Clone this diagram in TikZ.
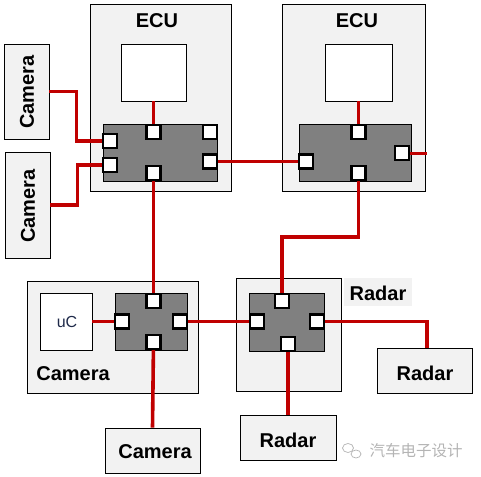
\documentclass[tikz,border=0pt]{standalone}
\usepackage{fontspec}
\usetikzlibrary{shapes.geometric}
\setmainfont{Liberation Sans}
\newfontfamily\cjk{Noto Sans CJK SC}
\definecolor{wirered}{HTML}{C00000}
\definecolor{boxgray}{HTML}{F2F2F2}
\definecolor{swgray}{HTML}{808080}
\definecolor{wmgray}{HTML}{B4B4B4}
\definecolor{ucblue}{HTML}{1F2A4A}
\pgfdeclarelayer{bg}
\pgfdeclarelayer{wires}
\pgfsetlayers{bg,wires,main}
\tikzset{
  x=1pt,y=-1pt,
  unit/.style={draw=black,line width=0.8pt,fill=boxgray,inner sep=0pt},
  inner/.style={draw=black,line width=0.8pt,fill=white,inner sep=0pt},
  switchbox/.style={draw=black,line width=0.8pt,fill=swgray,inner sep=0pt},
  port/.style={draw=black,line width=2.8pt,fill=white,minimum size=14pt,inner sep=0pt},
  wire/.style={draw=wirered,line width=3.6pt},
  thinwire/.style={draw=wirered,line width=3pt},
  lbl/.style={font=\fontsize{20}{24}\selectfont\bfseries,inner sep=0pt},
}
\begin{document}
\begin{tikzpicture}
\useasboundingbox (0,0) rectangle (481,476);
\begin{pgfonlayer}{bg}
% ECU A
\node[unit,minimum width=141pt,minimum height=187pt] (ecuA) at (160.5,97.5) {};
\node[lbl] (ecuAt) at (157,21) {ECU};
\node[inner,minimum width=65pt,minimum height=57pt] (ecuAw) at (153.5,72.5) {};
\node[switchbox,minimum width=114pt,minimum height=57pt] (swA) at (160,152.5) {};
% ECU B
\node[unit,minimum width=143pt,minimum height=187pt] (ecuB) at (353.5,97.5) {};
\node[lbl] (ecuBt) at (357,21) {ECU};
\node[inner,minimum width=67pt,minimum height=57pt] (ecuBw) at (358.5,72.5) {};
\node[switchbox,minimum width=112pt,minimum height=57pt] (swB) at (355,152.5) {};
% left cameras
\node[unit,minimum width=45pt,minimum height=95pt] (camL1) at (26.5,91.5) {};
\node[lbl,rotate=90] (camL1t) at (27,92) {Camera};
\node[unit,minimum width=45pt,minimum height=106pt] (camL2) at (27.5,205) {};
\node[lbl,rotate=90] (camL2t) at (28,206) {Camera};
% camera module
\node[unit,minimum width=171pt,minimum height=112pt] (camM) at (112.5,337) {};
\node[inner,minimum width=52pt,minimum height=57pt] (uC) at (66,321.5) {};
\node[inner sep=0pt,text=ucblue,font=\fontsize{16}{19}\selectfont] (uCt) at (67,322) {uC};
\node[lbl] (camMt) at (73,374) {Camera};
\node[switchbox,minimum width=72pt,minimum height=57pt] (swC) at (151,321.5) {};
\node[unit,minimum width=95pt,minimum height=45pt] (camB) at (152.5,450.5) {};
\node[lbl] (camBt) at (155,452) {Camera};
% radar module
\node[unit,minimum width=105pt,minimum height=113pt] (radM) at (288.5,334.5) {};
\node[switchbox,minimum width=75pt,minimum height=58pt] (swR) at (286.5,322) {};
\node[fill=boxgray,minimum width=68pt,minimum height=28pt,inner sep=0pt] (radLb) at (378,292) {};
\node[lbl] (radLbt) at (378,293) {Radar};
\node[unit,minimum width=95pt,minimum height=45pt] (radR) at (424.5,370.5) {};
\node[lbl] (radRt) at (425,373) {Radar};
\node[unit,minimum width=96pt,minimum height=45pt] (radB) at (288,437.5) {};
\node[lbl] (radBt) at (288,440) {Radar};
\end{pgfonlayer}
% ports
\node[port] (pAt) at (153.5,132) {};
\node[port] (pAtr) at (210,132) {};
\node[port] (pAl1) at (110,141) {};
\node[port] (pAl2) at (110,165) {};
\node[port] (pAr) at (210,161.5) {};
\node[port] (pAb) at (153.5,173) {};
\node[port] (pBt) at (358.5,132) {};
\node[port] (pBr) at (402,153) {};
\node[port] (pBl) at (306,161.5) {};
\node[port] (pBb) at (358.5,173) {};
\node[port] (pCt) at (153.5,301) {};
\node[port] (pCl) at (122,321.5) {};
\node[port] (pCr) at (180,321.5) {};
\node[port] (pCb) at (153.5,342) {};
\node[port] (pRt) at (282,301) {};
\node[port] (pRl) at (257,321.5) {};
\node[port] (pRr) at (317,321.5) {};
\node[port] (pRb) at (288,344) {};
\coordinate (stubB) at (427,153);
\begin{pgfonlayer}{wires}
\draw[wire] (camL1.east) -- ++(27,0) |- (pAl1.center);
\draw[wire] (camL2.east) -- ++(27,0) |- (pAl2.center);
\draw[thinwire] (pAt.center) -- (pAt.center |- ecuAw.south);
\draw[wire] (pAr.center) -- (pBl.center);
\draw[thinwire] (pBt.center) -- (pBt.center |- ecuBw.south);
\draw[thinwire] (pBr.center) -- (stubB);
\draw[wire] (pBb.center) -- ++(0,64) -| (pRt.center);
\draw[wire] (pAb.center) -- (pCt.center);
\draw[thinwire] (pCl.center) -- (uC.east);
\draw[wire] (pCr.center) -- (pRl.center);
\draw[wire] (pCb.center) -- (camB.north);
\draw[wire] (pRr.center) -| ([xshift=2.5pt]radR.north);
\draw[wire] (pRb.center) -- (radB.north);
\end{pgfonlayer}
% watermark
\node[inner sep=0pt,text=wmgray,font=\cjk\fontsize{15.5}{18}\selectfont] (wm) at (416,451) {汽车电子设计};
\node[draw=wmgray,line width=0.7pt,ellipse,minimum width=11pt,minimum height=9pt,inner sep=0pt] (wmA) at (348,448) {};
\node[draw=wmgray,line width=0.7pt,fill=white,ellipse,minimum width=10pt,minimum height=8pt,inner sep=0pt] (wmB) at (356,454) {};
\end{tikzpicture}
\end{document}
